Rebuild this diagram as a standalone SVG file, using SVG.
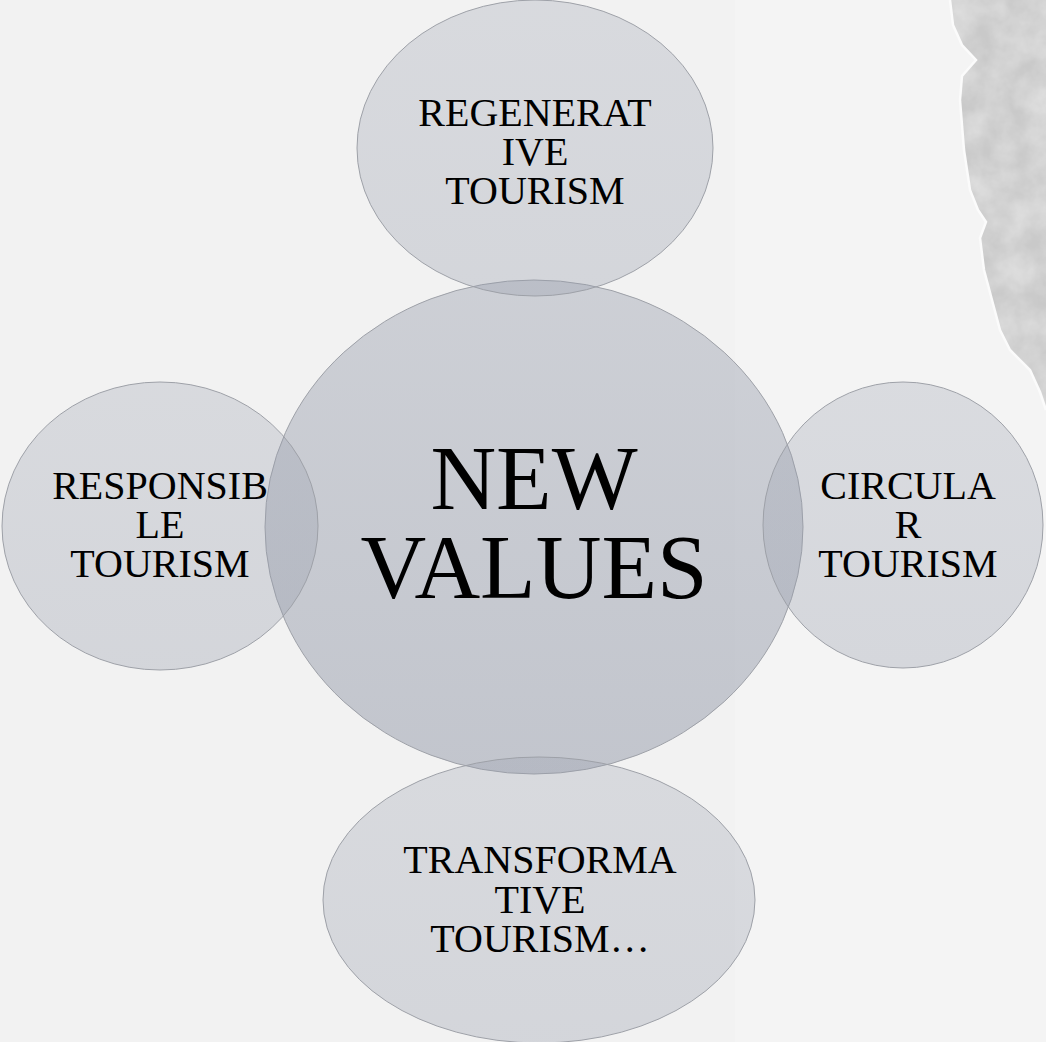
<svg xmlns="http://www.w3.org/2000/svg" width="1046" height="1042" viewBox="0 0 1046 1042">
  <defs>
    <style>
      .lbl { font-family: "Liberation Serif", "Times New Roman", serif; font-size: 40px; fill: #000; text-anchor: middle; }
      .big { font-family: "Liberation Serif", "Times New Roman", serif; font-size: 91px; fill: #000; text-anchor: middle; }
      .outer { fill: url(#gOuter); stroke: #9ea1a8; stroke-width: 1; }
      .core { fill: url(#gCore); stroke: #9ea1a8; stroke-width: 1; }
    </style>
    <linearGradient id="gOuter" x1="0" y1="0" x2="0" y2="1">
      <stop offset="0" stop-color="#969cab" stop-opacity="0.28"/>
      <stop offset="1" stop-color="#969cab" stop-opacity="0.33"/>
    </linearGradient>
    <linearGradient id="gCore" x1="0" y1="0" x2="0" y2="1">
      <stop offset="0" stop-color="#969cab" stop-opacity="0.40"/>
      <stop offset="1" stop-color="#969cab" stop-opacity="0.52"/>
    </linearGradient>
    <filter id="stone" x="0" y="0" width="1" height="1">
      <feTurbulence type="fractalNoise" baseFrequency="0.035" numOctaves="4" seed="7" result="n"/>
      <feColorMatrix in="n" type="matrix" values="0 0 0 0 0.72  0 0 0 0 0.72  0 0 0 0 0.72  0 0 0 -1.6 1.25" result="c"/>
      <feComposite in="c" in2="SourceGraphic" operator="in"/>
    </filter>
    <filter id="paper" x="0" y="0" width="1" height="1">
      <feTurbulence type="fractalNoise" baseFrequency="0.05" numOctaves="3" seed="3" result="n"/>
      <feColorMatrix in="n" type="matrix" values="0 0 0 0 0.9  0 0 0 0 0.9  0 0 0 0 0.9  0 0 0 -0.25 0.18" result="c"/>
      <feComposite in="c" in2="SourceGraphic" operator="in"/>
    </filter>
    <clipPath id="stoneClip">
      <path d="M950,0 L953,25 L962,45 L976,60 L962,76 L960,100 L964,150 L970,190 L978,210 L986,222 L980,238 L984,270 L992,300 L1000,330 L1010,350 L1030,370 L1040,392 L1046,410 L1046,0 Z"/>
    </clipPath>
  </defs>

  <g id="background">
    <rect x="0" y="0" width="1046" height="1042" fill="#f2f2f2"/>
    <rect x="735" y="0" width="311" height="1042" fill="#f4f4f4"/>
    <rect x="735" y="0" width="311" height="1042" fill="#ffffff" filter="url(#paper)"/>
    <path d="M950,0 L953,25 L962,45 L976,60 L962,76 L960,100 L964,150 L970,190 L978,210 L986,222 L980,238 L984,270 L992,300 L1000,330 L1010,350 L1030,370 L1040,392 L1046,410 L1046,0 Z" fill="#c9c9c9"/>
    <g clip-path="url(#stoneClip)">
      <rect x="940" y="0" width="106" height="420" fill="#ffffff" filter="url(#stone)"/>
    </g>
    <path d="M950,0 L953,25 L962,45 L976,60 L962,76 L960,100 L964,150 L970,190 L978,210 L986,222 L980,238 L984,270 L992,300 L1000,330 L1010,350 L1030,370 L1040,392 L1046,410" fill="none" stroke="#fbfbfb" stroke-width="2.5"/>
  </g>

  <g id="connectors"></g>

  <g id="node-new-values">
    <ellipse class="core" cx="534" cy="527" rx="269" ry="247"/>
    <text class="big" x="534" y="509">NEW</text>
    <text class="big" x="534" y="598">VALUES</text>
  </g>

  <g id="node-regenerative">
    <ellipse class="outer" cx="535" cy="148" rx="178" ry="148"/>
    <text class="lbl" x="535" y="126">REGENERAT</text>
    <text class="lbl" x="535" y="165">IVE</text>
    <text class="lbl" x="535" y="204">TOURISM</text>
  </g>

  <g id="node-responsible">
    <ellipse class="outer" cx="160" cy="526" rx="158" ry="144"/>
    <text class="lbl" x="160" y="499">RESPONSIB</text>
    <text class="lbl" x="160" y="538">LE</text>
    <text class="lbl" x="160" y="577">TOURISM</text>
  </g>

  <g id="node-circular">
    <ellipse class="outer" cx="903" cy="525" rx="140" ry="143"/>
    <text class="lbl" x="908" y="499">CIRCULA</text>
    <text class="lbl" x="908" y="538">R</text>
    <text class="lbl" x="908" y="577">TOURISM</text>
  </g>

  <g id="node-transformative">
    <ellipse class="outer" cx="539" cy="900" rx="216" ry="143"/>
    <text class="lbl" x="540" y="873">TRANSFORMA</text>
    <text class="lbl" x="540" y="913">TIVE</text>
    <text class="lbl" x="540" y="952">TOURISM…</text>
  </g>
</svg>
